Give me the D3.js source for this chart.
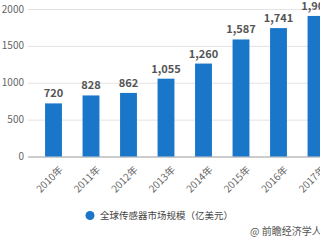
<!DOCTYPE html>
<html>
<head>
<meta charset="utf-8">
<script src="https://cdn.jsdelivr.net/npm/d3@7"></script>
<style>
  body { margin: 0; background: #fff; overflow: hidden; }
  svg { display: block; font-family: "Noto Sans CJK SC", "Noto Sans", sans-serif; }
</style>
</head>
<body>
<svg width="320" height="240"></svg>
<script>
const years = ["2010年", "2011年", "2012年", "2013年", "2014年", "2015年", "2016年", "2017年"]
const values = [720, 828, 862, 1055, 1260, 1587, 1741, 1906]
const yTicks = [0, 500, 1000, 1500, 2000]
const seriesName = "全球传感器市场规模（亿美元）"

const svg = d3.select("svg")

const xScale = d3.scaleBand().domain(years).range([34.75, 334.75]).paddingInner(0.55).paddingOuter(0.275)
const yScale = d3.scaleLinear().domain([0, 2000]).range([156.5, 9])

// gridlines
svg.append("g")
    .selectAll("line")
    .data(yTicks)
    .enter()
    .append("line")
    .attr("x1", 28)
    .attr("x2", 320)
    .attr("y1", d => yScale(d) + 0.5)
    .attr("y2", d => yScale(d) + 0.5)
    .style("stroke", d => d === 0 ? "#999" : "#e3e3e3")
    .style("stroke-width", 1)

// y labels
svg.append("g")
    .selectAll("text")
    .data(yTicks)
    .enter()
    .append("text")
    .attr("x", 24)
    .attr("y", d => yScale(d))
    .attr("dy", "0.35em")
    .style("text-anchor", "end")
    .style("font-size", "10px")
    .style("fill", "#666")
    .text(d => d)

// bars
svg.append("g")
    .selectAll("rect")
    .data(values)
    .enter()
    .append("rect")
    .attr("x", (d, i) => xScale(years[i]))
    .attr("width", xScale.bandwidth())
    .attr("y", d => yScale(d))
    .attr("height", d => yScale(0) - yScale(d))
    .style("fill", "#1a76c8")

// value labels
svg.append("g")
    .selectAll("text")
    .data(values)
    .enter()
    .append("text")
    .attr("x", (d, i) => xScale(years[i]) + xScale.bandwidth() / 2)
    .attr("y", d => yScale(d) - 6)
    .style("text-anchor", "middle")
    .style("font-size", "11px")
    .style("font-weight", "bold")
    .style("fill", "#555")
    .text(d => d3.format(",")(d))

// x labels rotated
svg.append("g")
    .selectAll("text")
    .data(years)
    .enter()
    .append("text")
    .attr("transform", d => `translate(${xScale(d) + xScale.bandwidth() / 2 + 5},${yScale(0) + 9}) rotate(-45)`)
    .style("text-anchor", "end")
    .style("font-size", "10px")
    .style("fill", "#666")
    .attr("dy", "0.7em")
    .text(d => d)

// legend
svg.append("circle")
    .attr("cx", 90)
    .attr("cy", 215.5)
    .attr("r", 4.5)
    .style("fill", "#1a76c8")

svg.append("text")
    .attr("x", 100)
    .attr("y", 215.5)
    .attr("dy", "0.35em")
    .style("font-size", "9.5px")
    .style("fill", "#444")
    .text(seriesName)

// source
svg.append("text")
    .attr("x", 250)
    .attr("y", 231)
    .attr("dy", "0.35em")
    .style("font-size", "10px")
    .style("fill", "#555")
    .text("@ 前瞻经济学人")
</script>
</body>
</html>
